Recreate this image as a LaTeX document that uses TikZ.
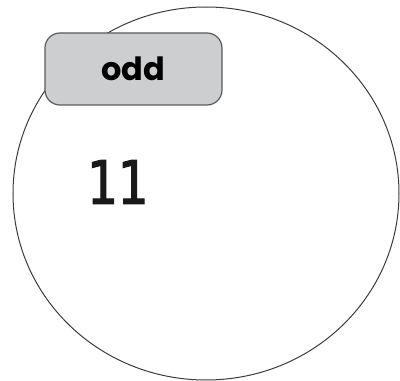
\documentclass[tikz,border=0pt]{standalone}
\usepackage{fontspec}
\usepackage{xcolor}
\usetikzlibrary{shapes.geometric}
\newfontfamily\labelfont{Poppins}
\newfontfamily\numfont[FakeStretch=0.85, FakeBold=1.6]{DejaVu Sans Mono}
\definecolor{setLine}{RGB}{60, 60, 60}
\definecolor{tagFill}{RGB}{205, 206, 208}
\definecolor{tagLine}{RGB}{90, 90, 90}

\begin{document}
\begin{tikzpicture}[x=1pt, y=1pt]
                    \tikzstyle{set} = [ellipse, draw=setLine, line width=1pt, minimum width=386pt, minimum height=373pt, inner sep=0pt]
                    \tikzstyle{tag} = [rectangle, draw=tagLine, fill=tagFill, line width=1.2pt, minimum width=177pt, minimum height=72pt, rounded corners=15pt, font=\labelfont\bfseries\fontsize{32}{32}\selectfont]
                    \tikzstyle{member} = [font=\numfont\fontsize{60}{60}\selectfont, text=black!90]

                    \useasboundingbox (0,0) rectangle (400,381);

                    \node[set] (odds) at (206, 187.5) {};
                    \node[tag] (oddtag) at (133.5, 312) {odd};
                    \node[member] (eleven) at (117, 199) {11};
                \end{tikzpicture}
\end{document}
